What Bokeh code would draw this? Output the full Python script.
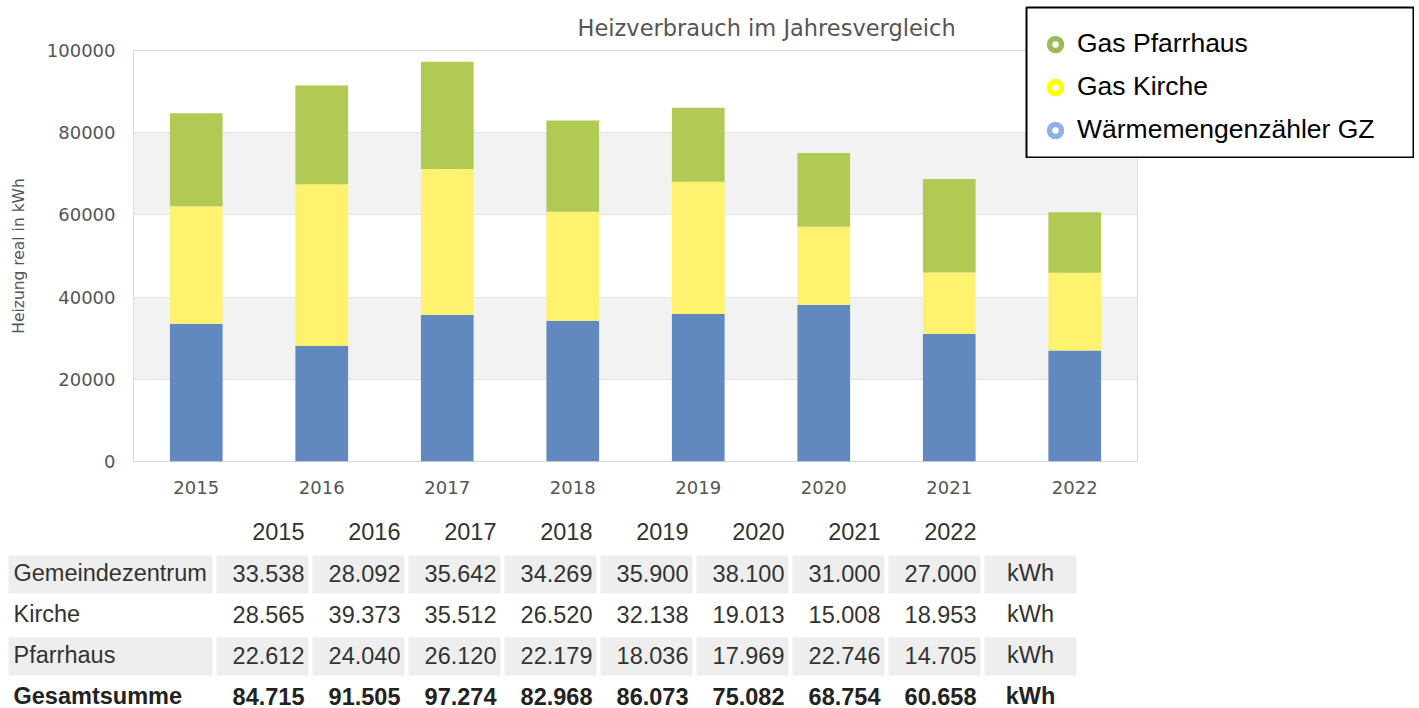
import numpy as np
from bokeh.plotting import figure
from bokeh.models import (ColumnDataSource, FactorRange, Range1d, FixedTicker,
                          BasicTickFormatter, Legend, LegendItem)
from bokeh.layouts import column, row
from bokeh.embed import file_html
from bokeh.resources import INLINE
from bokeh.core.properties import value

# ---------------- data ----------------
years = ["2015", "2016", "2017", "2018", "2019", "2020", "2021", "2022"]
gemeindezentrum = [33538, 28092, 35642, 34269, 35900, 38100, 31000, 27000]
kirche = [28565, 39373, 35512, 26520, 32138, 19013, 15008, 18953]
pfarrhaus = [22612, 24040, 26120, 22179, 18036, 17969, 22746, 14705]
gesamtsumme = [84715, 91505, 97274, 82968, 86073, 75082, 68754, 60658]
row_labels = ["Gemeindezentrum", "Kirche", "Pfarrhaus", "Gesamtsumme"]
unit = "kWh"
series_names = ["Gas Pfarrhaus", "Gas Kirche", "Wärmemengenzähler GZ"]
y_ticks = [0, 20000, 40000, 60000, 80000, 100000]
title_text = "Heizverbrauch im Jahresvergleich"
y_label = "Heizung real in kWh"

# ---------------- styles ----------------
BLUE, YELLOW, GREEN = "#6189c0", "#fff26e", "#b0ca54"
RING_COLORS = ["#9bbb59", "#ffff00", "#8db3e2"]
TABLE_FONT = value("Liberation Sans")

# ---------------- chart ----------------
CW, CH = 1147, 505
p = figure(width=CW, height=CH, x_range=FactorRange(*years), y_range=Range1d(0, 100000),
           output_backend="svg", toolbar_location=None, frame_align=False,
           min_border_left=133, min_border_right=10, min_border_top=50, min_border_bottom=44)
p.background_fill_color = "white"
p.border_fill_color = "white"
p.outline_line_color = "#d8d8d8"
p.outline_line_width = 1

p.title.text = title_text
p.title.align = "left"
p.title.offset = 444
p.title.text_font = "DejaVu Sans"
p.title.text_font_size = "22.5px"
p.title.text_font_style = "normal"
p.title.text_color = "#555555"
p.title.standoff = 20

src = ColumnDataSource(dict(year=years, gz=gemeindezentrum, ki=kirche, pf=pfarrhaus))
p.vbar_stack(["gz", "ki", "pf"], x="year", width=0.42, source=src,
             fill_color=[BLUE, YELLOW, GREEN], line_color=None)

p.yaxis.ticker = FixedTicker(ticks=y_ticks)
p.yaxis.formatter = BasicTickFormatter(use_scientific=False)
p.yaxis.axis_label = y_label
p.yaxis.axis_label_text_font = "DejaVu Sans"
p.yaxis.axis_label_text_font_size = "15.5px"
p.yaxis.axis_label_text_font_style = "normal"
p.yaxis.axis_label_text_color = "#555555"
p.yaxis.axis_label_standoff = 16
for ax in (p.xaxis, p.yaxis):
    ax.axis_line_color = None
    ax.major_tick_line_color = None
    ax.minor_tick_line_color = None
    ax.major_tick_out = 0
    ax.major_label_text_font = "DejaVu Sans"
    ax.major_label_text_font_size = "18px"
    ax.major_label_text_color = "#555555"
p.yaxis.major_label_standoff = 18
p.xaxis.major_label_standoff = 19

p.xgrid.grid_line_color = None
p.ygrid.grid_line_color = "#e3e3e3"
p.ygrid.grid_line_width = 1
p.ygrid.band_fill_color = "#f2f2f2"
p.ygrid.band_fill_alpha = 1

# ---------------- legend box (overlapping the chart's top-right corner) ----------------
LW, LH = 389, 152
lg = figure(width=LW, height=LH, x_range=Range1d(0, 1), y_range=Range1d(0, 1),
            output_backend="svg", toolbar_location=None, frame_align=False,
            min_border=1, x_axis_location=None, y_axis_location=None,
            margin=(6, 0, 0, 1025 - CW))
lg.xgrid.visible = False
lg.ygrid.visible = False
lg.outline_line_color = "black"
lg.outline_line_width = 2
lg.background_fill_color = "white"
lg.border_fill_color = "white"

items = []
for name, col in zip(series_names, RING_COLORS):
    r = lg.scatter(x=np.array([np.nan]), y=np.array([np.nan]), marker="circle",
                   size=10, fill_color="white", line_color=col, line_width=5.5)
    items.append(LegendItem(label=name, renderers=[r]))

legend = Legend(items=items, location=(14, 12), orientation="vertical",
                padding=15, spacing=12, glyph_width=30, glyph_height=30,
                label_standoff=7, label_height=31,
                label_text_font="Liberation Sans", label_text_font_size="26.5px",
                label_text_color="black", border_line_color=None,
                background_fill_alpha=0)
lg.add_layout(legend)

# ---------------- table ----------------
TW, TH = 1414, 708 - CH
t = figure(width=TW, height=TH, x_range=Range1d(0, TW), y_range=Range1d(TH, 0),
           output_backend="svg", toolbar_location=None, frame_align=False,
           min_border=0, x_axis_location=None, y_axis_location=None)
t.outline_line_color = None
t.xgrid.visible = False
t.ygrid.visible = False
t.background_fill_color = "white"
t.border_fill_color = "white"

label_left, label_right = 8, 212
col0_left, col_pitch, col_w = 216, 96, 92
header_y = 26
cell_y = [69, 110, 151, 192]
text_dy = -1.5
cell_h = 38
n = len(years)

# gray shaded cells for rows 0 and 2
ql, qr, qt, qb = [], [], [], []
for r in (0, 2):
    lefts = [label_left] + [col0_left + col_pitch * i for i in range(n + 1)]
    rights = [label_right] + [col0_left + col_pitch * i + col_w for i in range(n + 1)]
    for a, b in zip(lefts, rights):
        ql.append(a); qr.append(b)
        qt.append(cell_y[r] - cell_h / 2); qb.append(cell_y[r] + cell_h / 2)
t.quad(left=ql, right=qr, top=qt, bottom=qb, fill_color="#eeeeee", line_color=None)

num_x = [col0_left + col_pitch * i + col_w - 4 for i in range(n)]
unit_x = col0_left + col_pitch * n + col_w / 2


def fmt(v):
    return f"{v:,}".replace(",", ".")


TXT = dict(text_font=TABLE_FONT, text_font_size="23.5px", text_baseline="middle")

t.text(x=num_x, y=[header_y] * n, text=years, text_align="right",
       text_color="#333333", **TXT)

rows = [gemeindezentrum, kirche, pfarrhaus, gesamtsumme]
for ri, (lab, vals) in enumerate(zip(row_labels, rows)):
    style = "bold" if ri == 3 else "normal"
    colr = "#222222" if ri == 3 else "#333333"
    ty = cell_y[ri] + text_dy
    t.text(x=[label_left + 5], y=[ty], text=[lab], text_align="left",
           text_color=colr, text_font_style=style, **TXT)
    t.text(x=num_x, y=[ty] * n, text=[fmt(v) for v in vals], text_align="right",
           text_color=colr, text_font_style=style, **TXT)
    t.text(x=[unit_x], y=[ty], text=[unit], text_align="center",
           text_color=colr, text_font_style=style, **TXT)

layout = column(row(p, lg, spacing=0), t, spacing=0)
open("out.html", "w").write(file_html(layout, INLINE))
